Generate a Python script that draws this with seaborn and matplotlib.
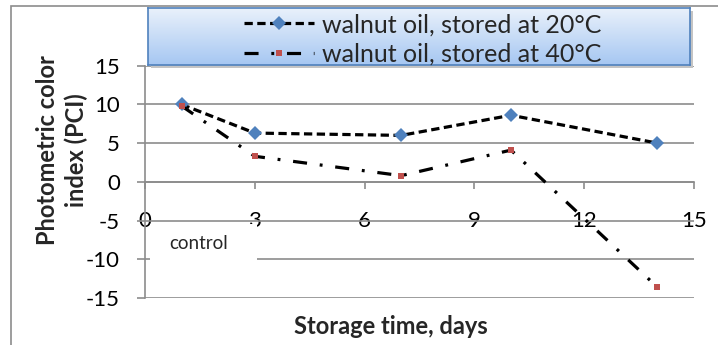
import numpy as np
import pandas as pd
import matplotlib
matplotlib.use("Agg")
import matplotlib.pyplot as plt
import seaborn as sns
from matplotlib.lines import Line2D
from matplotlib.patches import Rectangle
from matplotlib.colors import LinearSegmentedColormap

days = [1, 3, 7, 10, 14]
pci_20 = [10.0, 6.3, 6.0, 8.6, 5.0]
pci_40 = [9.8, 3.3, 0.8, 4.1, -13.6]
series_names = ["walnut oil, stored at 20°C", "walnut oil, stored at 40°C"]
x_ticks = [0, 3, 6, 9, 12, 15]
y_ticks = [-15, -10, -5, 0, 5, 10, 15]

sns.set_style("white")
plt.rcParams["font.family"] = ["Lato", "DejaVu Sans"]
plt.rcParams["axes.unicode_minus"] = False

W, H = 718, 345
fig = plt.figure(figsize=(W / 100, H / 100), dpi=100)

def fx(px):
    return px / W

def fy(py):
    return 1 - py / H

GRID = "#8c8c8c"

# chart outer border
fig.patches.append(Rectangle((fx(11), fy(400)), fx(800), fy(6) - fy(400),
                             transform=fig.transFigure, fill=False,
                             edgecolor=GRID, lw=1.2, zorder=0))

left, right, top, bottom = 145, 694, 65.7, 298
ax = fig.add_axes([fx(left), fy(bottom), fx(right - left), fy(top) - fy(bottom)])

df = pd.DataFrame({"day": days * 2,
                   "pci": pci_20 + pci_40,
                   "series": [series_names[0]] * len(days) + [series_names[1]] * len(days)})

LS1 = (0, (2.6, 1.4))
LS2 = (0, (4.4, 4.0, 0.9, 4.0))

sns.lineplot(data=df[df.series == series_names[0]], x="day", y="pci", ax=ax,
             color="black", lw=2.3, linestyle=LS1, marker="D",
             markersize=7, markerfacecolor="#4F81BD", markeredgewidth=0,
             legend=False, zorder=3)
sns.lineplot(data=df[df.series == series_names[1]], x="day", y="pci", ax=ax,
             color="black", lw=2.3, linestyle=LS2, marker="s",
             markersize=4, markerfacecolor="#C0504D", markeredgewidth=0,
             legend=False, zorder=4)

ax.set_xlim(0, 15)
ax.set_ylim(-15, 15)
ax.set_xticks(x_ticks)
ax.set_yticks(y_ticks)
ax.set_xlabel("")
ax.set_ylabel("")
ax.grid(axis="y", color=GRID, lw=1.2)
ax.set_axisbelow(True)
for s in ["top", "right"]:
    ax.spines[s].set_visible(False)
ax.spines["bottom"].set_position(("data", 0))
for s in ["bottom", "left"]:
    ax.spines[s].set_color(GRID)
    ax.spines[s].set_linewidth(1.2)
ax.tick_params(axis="y", left=True, length=6, width=1.2, color=GRID,
               labelsize=16, pad=12, labelcolor="black")
ax.tick_params(axis="x", bottom=True, length=5, width=1.2, color=GRID,
               labelsize=16, pad=16, labelcolor="black")
ax.patch.set_alpha(0)

# white label box for "control" (hides part of the -10 gridline)
ax.add_patch(Rectangle((0.15, -10.5), 2.9, 5.0, facecolor="white",
                       edgecolor="none", zorder=2))
ax.text(0.66, -8.0, "control", fontsize=13.5, ha="left", va="center", zorder=5)

fig.text(fx(62), fy(150), "Photometric color\nindex (PCI)", rotation=90,
         ha="center", va="center", fontsize=17, fontweight="bold",
         linespacing=1.3)
fig.text(fx(391), fy(326), "Storage time, days", ha="center", va="center",
         fontsize=17, fontweight="bold")

# legend box with gradient
lx0, lx1, ly0, ly1 = 148, 690, 8, 65
shadow = fig.add_axes([fx(lx0 + 3), fy(ly1 + 3), fx(lx1 - lx0), fy(ly0) - fy(ly1)], zorder=9)
shadow.set_facecolor("#c4c4c4")
shadow.set_xticks([]); shadow.set_yticks([])
for s in shadow.spines.values():
    s.set_visible(False)
gax = fig.add_axes([fx(lx0), fy(ly1), fx(lx1 - lx0), fy(ly0) - fy(ly1)], zorder=10)
grad = np.linspace(0, 1, 100).reshape(-1, 1)
cmap = LinearSegmentedColormap.from_list("g", ["#e9f1fb", "#a6c7f2"])
gax.imshow(grad, aspect="auto", cmap=cmap, extent=[0, 1, 0, 1], origin="upper")
gax.set_xlim(0, 1); gax.set_ylim(0, 1)
gax.set_xticks([]); gax.set_yticks([])
for s in gax.spines.values():
    s.set_color("#4F81BD")
    s.set_linewidth(1.2)

h1 = Line2D([], [], color="black", lw=2.3, linestyle=LS1, marker="D",
            markersize=7, markerfacecolor="#4F81BD", markeredgewidth=0)
h2 = Line2D([], [], color="black", lw=2.3, linestyle=LS2, marker="s",
            markersize=4, markerfacecolor="#C0504D", markeredgewidth=0)
gax.legend([h1, h2], series_names, loc="center", frameon=False, fontsize=18,
           handlelength=2.8, handletextpad=0.3, labelspacing=0.25,
           borderpad=0, bbox_to_anchor=(0.507, 0.45))

fig.savefig("out.png", dpi=100)
